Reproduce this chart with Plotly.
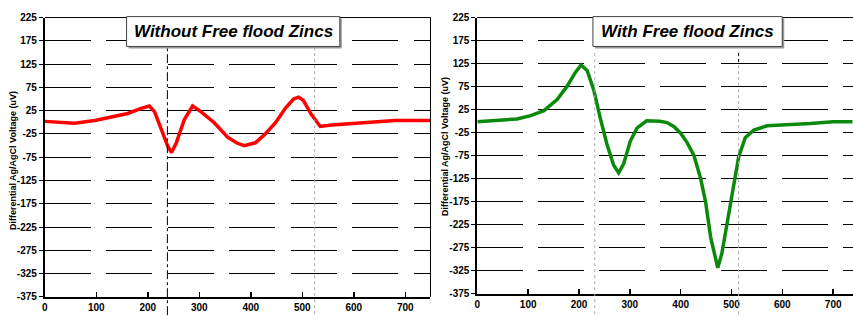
import plotly.graph_objects as go

# Left panel: without free flood zincs (red)
x_without = [0, 30, 58, 97, 129, 161, 187, 203, 213, 226, 239, 246, 255, 271, 287, 303, 329, 355, 372, 387, 409, 428, 448, 467, 483, 493, 502, 518, 535, 557, 590, 635, 680, 750]
y_without = [2, 0, -2, 4, 11, 19, 30, 35, 23, -15, -52, -65, -45, 6, 35, 23, -1, -32, -44, -50, -44, -25, -1, 30, 50, 54, 47, 16, -9, -6, -3, 0, 4, 4]

# Right panel: with free flood zincs (green)
x_with = [0, 39, 78, 105, 131, 157, 176, 193, 204, 216, 229, 242, 255, 268, 278, 288, 301, 314, 333, 359, 373, 387, 400, 413, 426, 439, 449, 459, 469, 473, 481, 491, 501, 514, 527, 544, 570, 609, 655, 700, 738]
y_with = [-1, 2, 5, 12, 23, 47, 75, 106, 122, 110, 68, 6, -50, -95, -112, -92, -43, -15, 1, 0, -3, -12, -26, -47, -74, -123, -175, -252, -304, -318, -287, -224, -161, -78, -36, -19, -10, -8, -5, -1, -1]

titles = ["Without Free flood Zincs", "With Free flood Zincs"]
y_title = "Differential Ag/AgCl Voltage (uV)"
y_ticks = [225, 175, 125, 75, 25, -25, -75, -125, -175, -225, -275, -325, -375]
x_ticks = [0, 100, 200, 300, 400, 500, 600, 700]

W, H = 853, 326
tick_font = dict(family="Liberation Sans Narrow, Liberation Sans, Arial", size=10, color="black")

fig = go.Figure()
fig.add_trace(go.Scatter(x=x_without, y=y_without, mode="lines",
                         line=dict(color="#ff0000", width=3.5), xaxis="x", yaxis="y", showlegend=False))
fig.add_trace(go.Scatter(x=x_with, y=y_with, mode="lines",
                         line=dict(color="#0a8a0a", width=3.5), xaxis="x2", yaxis="y2", showlegend=False))

def yax(domain, anchor, dash):
    return dict(domain=domain, anchor=anchor, range=[-375, 225], tickvals=y_ticks,
                ticktext=["<b>%d</b>" % v for v in y_ticks], showgrid=True, gridcolor="#000",
                gridwidth=1, griddash=dash, zeroline=False, showline=True,
                linecolor="black", linewidth=2, ticks="outside", ticklen=4,
                tickcolor="black", tickfont=tick_font, fixedrange=True)

def xax(domain, anchor, rng):
    return dict(domain=domain, anchor=anchor, range=rng, tickvals=x_ticks,
                ticktext=["<b>%d</b>" % v for v in x_ticks],
                showgrid=False, zeroline=False, showline=True, linecolor="black",
                linewidth=2.5, ticks="inside", ticklen=5, tickwidth=1.5,
                tickcolor="black", tickfont=tick_font, fixedrange=True)

fig.update_layout(
    width=W, height=H, margin=dict(l=0, r=0, t=0, b=0),
    paper_bgcolor="white", plot_bgcolor="white", hovermode=False,
    xaxis=xax([42 / W, 429 / W], "y", [0, 749]),
    yaxis=yax([(H - 302) / H, (H - 12) / H], "x", "46px,15.5px"),
    xaxis2=xax([476 / W, 1.0], "y2", [0, 739]),
    yaxis2=yax([(H - 299) / H, (H - 12) / H], "x2", "46px,15px"),
)

shapes = []
# border of left panel (thin top and right)
shapes.append(dict(type="line", xref="paper", yref="paper", x0=42 / W, x1=429 / W,
                   y0=(H - 12) / H, y1=(H - 12) / H, line=dict(color="black", width=1)))
shapes.append(dict(type="line", xref="paper", yref="paper", x0=429 / W, x1=429 / W,
                   y0=(H - 302) / H, y1=(H - 12) / H, line=dict(color="black", width=1)))
shapes.append(dict(type="line", xref="paper", yref="paper", x0=476 / W, x1=1.0,
                   y0=(H - 12) / H, y1=(H - 12) / H, line=dict(color="black", width=1)))
# vertical marker lines
shapes.append(dict(type="line", xref="x", yref="paper", x0=238, x1=238,
                   y0=(H - 321) / H, y1=(H - 42) / H, line=dict(color="black", width=1, dash="dashdot")))
shapes.append(dict(type="line", xref="x", yref="paper", x0=524, x1=524,
                   y0=(H - 320) / H, y1=(H - 43) / H, line=dict(color="#aaa", width=1, dash="dot")))
shapes.append(dict(type="line", xref="x2", yref="paper", x0=231, x1=231,
                   y0=(H - 320) / H, y1=(H - 47) / H, line=dict(color="#aaa", width=1, dash="dot")))
shapes.append(dict(type="line", xref="x2", yref="paper", x0=514, x1=514,
                   y0=(H - 320) / H, y1=(H - 47) / H, line=dict(color="#aaa", width=1, dash="dot")))
shapes.append(dict(type="line", xref="x2", yref="paper", x0=514, x1=514,
                   y0=(H - 58) / H, y1=(H - 47) / H, line=dict(color="black", width=1, dash="dot")))

# title boxes with shadow
boxes = [(124, 338, 11, 42), (592, 782, 11, 42)]
for (x0, x1, y0, y1) in boxes:
    shapes.append(dict(type="rect", xref="paper", yref="paper", x0=(x0 + 2) / W, x1=(x1 + 2) / W,
                       y0=(H - y1 - 2) / H, y1=(H - y0 - 2) / H, fillcolor="#999", line=dict(width=0)))
    shapes.append(dict(type="rect", xref="paper", yref="paper", x0=x0 / W, x1=x1 / W,
                       y0=(H - y1) / H, y1=(H - y0) / H, fillcolor="white", line=dict(color="#444", width=1)))
fig.update_layout(shapes=shapes)

annotations = []
for (x0, x1, y0, y1), t in zip(boxes, titles):
    annotations.append(dict(xref="paper", yref="paper", x=(x0 + x1) / 2 / W, y=1 - (y0 + y1) / 2 / H,
                            text="<b><i>" + t + "</i></b>", showarrow=False,
                            font=dict(family="Liberation Sans, Arial", size=17, color="black"),
                            xanchor="center", yanchor="middle"))
for xc, yc in [(10, 160), (443, 146)]:
    annotations.append(dict(xref="paper", yref="paper", x=xc / W, y=1 - yc / H,
                            text="<b>" + y_title + "</b>", showarrow=False, textangle=-90,
                            font=dict(family="Liberation Sans, Arial", size=9, color="black"),
                            xanchor="center", yanchor="middle"))
fig.update_layout(annotations=annotations)

fig.write_html("out.html", config={"displayModeBar": False, "staticPlot": True},
               post_script="document.body.style.margin='0px';document.body.style.overflow='hidden';")
